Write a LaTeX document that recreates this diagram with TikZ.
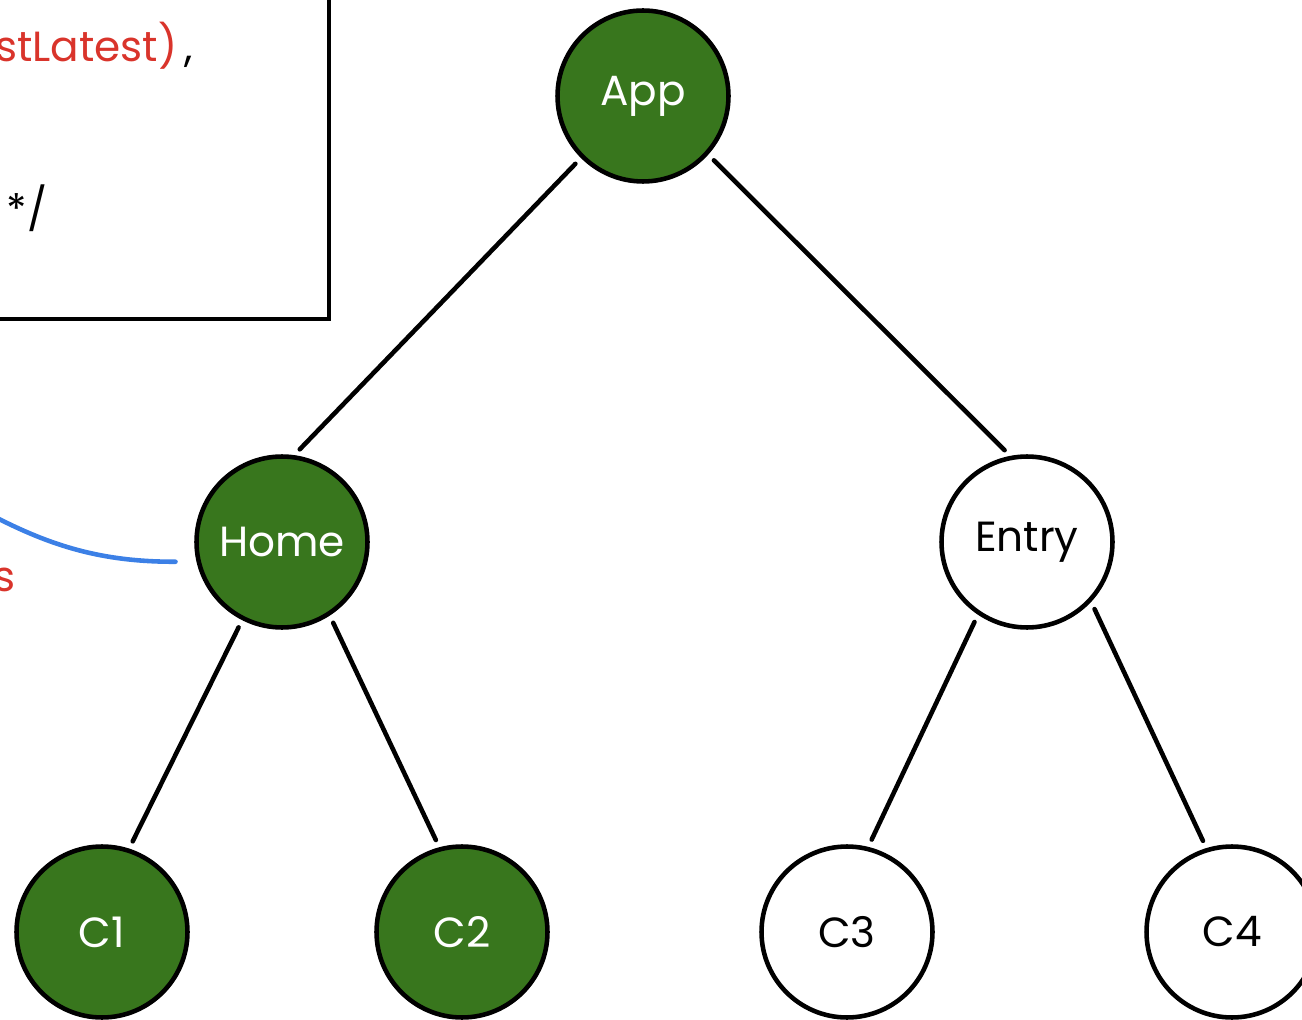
\documentclass[tikz,border=0pt]{standalone}
\usepackage{fontspec}
\setmainfont{Poppins}
\usepackage{xcolor}
\usetikzlibrary{positioning}
\definecolor{treegreen}{HTML}{38761D}
\definecolor{codered}{HTML}{D9342B}
\definecolor{linkblue}{HTML}{3C80E6}

\begin{document}
\begin{tikzpicture}[x=0.02cm,y=-0.02cm,line width=2.6pt,line cap=round]
  \tikzstyle{comp}=[draw,circle,minimum size=3.42cm,inner sep=0pt,font=\fontsize{24}{28}\selectfont]
  \tikzstyle{rendered}=[comp,fill=treegreen,text=white]
  \tikzstyle{edge}=[shorten <=0.16cm,shorten >=0.16cm]
  \tikzstyle{code}=[inner sep=0pt,font=\fontsize{24}{28}\selectfont]
  \useasboundingbox (0,0) rectangle (1302,1020);
  \clip (0,0) rectangle (1302,1020);
  % code box, cut at the edge
  \draw (-20,-20) rectangle (329,319);
  \node[code,anchor=base west,text=codered] (codeline) at (-7,62) {stLatest)\,\textcolor{black}{,}};
  \node[code] (codeend) at (27,208) {*/};
  \node[code,text=codered] (codenote) at (5,580) {s};
  % tree
  \node[rendered] (app) at (643,96) {App};
  \node[rendered] (home) at (282,542) {Home};
  \node[comp] (entry) at (1027,542) {Entry};
  \node[rendered] (c1) at (102,932) {C1};
  \node[rendered] (c2) at (462,932) {C2};
  \node[comp] (c3) at (847,932) {C3};
  \node[comp] (c4) at (1232,932) {C4};
  \draw[edge] (app.225) -- (home.82);
  \draw[edge] (app.318) -- (entry.101);
  \draw[edge] (home.243) -- (c1.72);
  \draw[edge] (home.303) -- (c2.105);
  \draw[edge] (entry.236) -- (c3.76);
  \draw[edge] (entry.317) -- (c4.107);
  % link from the note
  \coordinate (linkstart) at (-5,517);
  \draw[linkblue] (linkstart) .. controls (50,545) and (100,562) .. ([xshift=-0.42cm]home.193);
\end{tikzpicture}
\end{document}
